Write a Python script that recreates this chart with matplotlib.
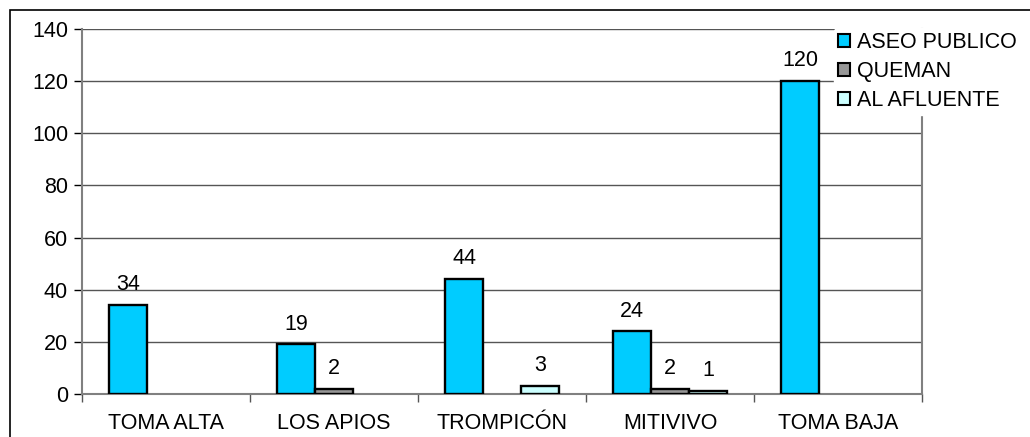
import matplotlib
matplotlib.use("Agg")
import matplotlib.pyplot as plt
import numpy as np
from matplotlib.patches import Rectangle

plt.rcParams['font.family'] = ['Liberation Sans', 'DejaVu Sans']

categories = ["TOMA ALTA", "LOS APIOS", "TROMPICÓN", "MITIVIVO", "TOMA BAJA"]
series_names = ["ASEO PUBLICO", "QUEMAN", "AL AFLUENTE"]
aseo = [34, 19, 44, 24, 120]
queman = [0, 2, 0, 2, 0]
afluente = [0, 0, 3, 1, 0]
colors = ["#00CCFF", "#969696", "#CCFFFF"]
yticks = [0, 20, 40, 60, 80, 100, 120, 140]

fig = plt.figure(figsize=(10.30, 4.37), dpi=100)
ax = fig.add_axes([82/1030, 1-394/437, (922-82)/1030, (394-29)/437])

x = np.arange(len(categories))
w = 0.226
data = [aseo, queman, afluente]
for i, (vals, c, name) in enumerate(zip(data, colors, series_names)):
    pos = x + (i - 1) * w
    lws = [1.7 if v > 0 else 0 for v in vals]
    ax.bar(pos, vals, width=w, color=c, edgecolor="black", linewidth=lws,
           label=name, zorder=3)
    for p, v in zip(pos, vals):
        if v > 0:
            ax.text(p, v + 3.8, str(v), ha="center", va="bottom", fontsize=15.5, zorder=4)

ax.set_xlim(-0.5, len(categories) - 0.5)
ax.set_ylim(0, 140)
ax.set_yticks(yticks)
ax.tick_params(axis='y', labelsize=15.5, length=6, width=1, color="black", pad=4)
ax.set_xticks(x)
ax.set_xticklabels(categories, fontsize=15.5)
ax.tick_params(axis='x', which='major', length=0, pad=14)
ax.set_xticks(np.arange(-0.5, len(categories)), minor=True)
ax.tick_params(axis='x', which='minor', length=6, width=1, color="#555555")
ax.grid(axis='y', color="#555555", linewidth=1, zorder=0)
ax.spines['top'].set_visible(False)
for s in ['left', 'bottom', 'right']:
    ax.spines[s].set_color("#808080")
    ax.spines[s].set_linewidth(1.5)

leg = ax.legend(loc='upper left', bbox_to_anchor=(834/1030, 1-28/437),
                bbox_transform=fig.transFigure, frameon=True, fontsize=15.5,
                handlelength=0.55, handleheight=0.55, handletextpad=0.3,
                labelspacing=0.36, borderaxespad=0, borderpad=0.2)
leg.get_frame().set_edgecolor("white")
leg.get_frame().set_facecolor("white")
leg.get_frame().set_alpha(1)
leg.set_zorder(10)
for h in leg.legend_handles:
    h.set_linewidth(1.5)

border = Rectangle((9.5/1030, -0.1), 1.2, (437-10.5)/437 + 0.1, transform=fig.transFigure,
                   fill=False, edgecolor="black", linewidth=1.2, clip_on=False)
fig.patches.append(border)

fig.savefig("out.png", dpi=100, facecolor="white")
